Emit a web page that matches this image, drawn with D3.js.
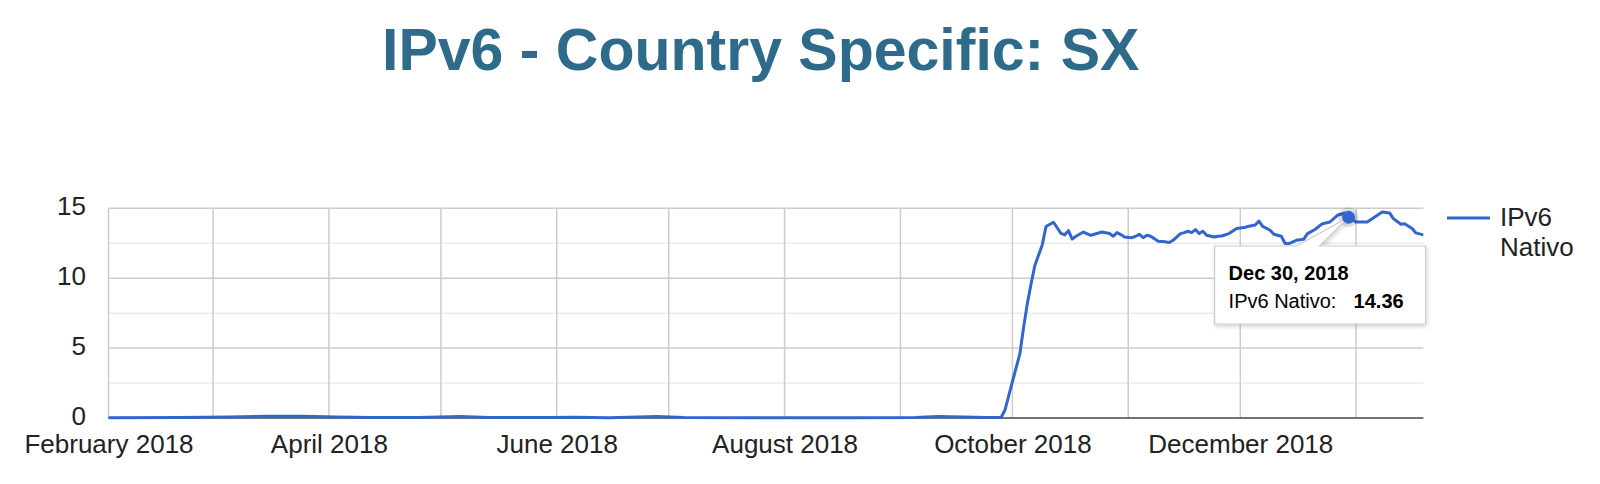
<!DOCTYPE html>
<html>
<head>
<meta charset="utf-8">
<script src="https://cdn.jsdelivr.net/npm/d3@7"></script>
<style>
  html, body { margin: 0; padding: 0; background: #fff; }
  svg { display: block; font-family: "Liberation Sans", Arial, Helvetica, sans-serif; }
</style>
</head>
<body>
<svg id="chart" width="1600" height="484"></svg>
<script>
// ---- data ----
const chartTitle = "IPv6 - Country Specific: SX";
const seriesName = "IPv6 Nativo";
const dates = [
  "2018-02-01","2018-02-20","2018-03-05","2018-03-15","2018-03-25","2018-04-03","2018-04-12","2018-04-25",
  "2018-05-06","2018-05-14","2018-05-30","2018-06-06","2018-06-15","2018-06-28","2018-07-05","2018-07-25",
  "2018-08-20","2018-09-05","2018-09-11","2018-09-18","2018-09-24","2018-09-28",
  "2018-09-29","2018-10-01","2018-10-03","2018-10-04","2018-10-05","2018-10-06","2018-10-07","2018-10-09",
  "2018-10-10","2018-10-12","2018-10-14","2018-10-15","2018-10-16","2018-10-17","2018-10-18","2018-10-20",
  "2018-10-22","2018-10-25","2018-10-27","2018-10-28","2018-10-29","2018-10-30","2018-10-31","2018-11-02",
  "2018-11-03","2018-11-04","2018-11-05","2018-11-06","2018-11-07","2018-11-08","2018-11-09","2018-11-11",
  "2018-11-12","2018-11-13","2018-11-15","2018-11-16","2018-11-17","2018-11-18","2018-11-19","2018-11-20",
  "2018-11-21","2018-11-22","2018-11-24","2018-11-25","2018-11-26","2018-11-28","2018-11-30","2018-12-02",
  "2018-12-03","2018-12-05","2018-12-06","2018-12-07","2018-12-09","2018-12-10","2018-12-12","2018-12-13",
  "2018-12-14","2018-12-16","2018-12-18","2018-12-19","2018-12-21","2018-12-23","2018-12-25","2018-12-27",
  "2018-12-29","2018-12-30","2019-01-01","2019-01-04","2019-01-06","2019-01-08","2019-01-10","2019-01-11",
  "2019-01-13","2019-01-14","2019-01-16","2019-01-17","2019-01-19"
];
const values = [
  0.02,0.03,0.08,0.12,0.13,0.08,0.04,0.03,
  0.10,0.04,0.03,0.06,0.02,0.10,0.03,0.02,
  0.02,0.04,0.10,0.07,0.03,0.05,
  0.57,2.6,4.6,6.5,8.2,9.6,10.9,12.4,
  13.7,14.0,13.2,13.1,13.4,12.8,13.0,13.3,
  13.07,13.3,13.2,13.0,13.26,13.12,12.95,12.9,
  13.0,13.14,12.9,13.07,13.0,12.83,12.64,12.6,
  12.55,12.71,13.19,13.26,13.36,13.26,13.48,13.19,
  13.36,13.07,12.95,13.0,13.02,13.19,13.55,13.62,
  13.7,13.8,14.09,13.71,13.43,13.14,13.0,12.48,
  12.48,12.71,12.79,13.19,13.48,13.9,14.02,14.5,
  14.66,14.36,14.02,14.02,14.38,14.74,14.66,14.26,
  13.86,13.9,13.55,13.24,13.1
];
const xTickDates = ["2018-02-01","2018-04-01","2018-06-01","2018-08-01","2018-10-01","2018-12-01"];
const yTicks = [0, 5, 10, 15];
const yMinorTicks = [2.5, 7.5, 12.5];
const highlightDate = "2018-12-30";

// ---- layout ----
const svg = d3.select("#chart");
const plot = { left: 108.5, right: 1423.3, top: 208.3, bottom: 418 };
const parse = d3.timeParse("%Y-%m-%d");
const data = dates.map((d, i) => ({ date: parse(d), value: values[i] }));

const x = d3.scaleTime()
  .domain(d3.extent(data, d => d.date))
  .range([plot.left, plot.right]);
const y = d3.scaleLinear().domain([0, 15]).range([plot.bottom, plot.top]);

// Title
svg.append("text")
  .attr("x", 382).attr("y", 70)
  .attr("font-size", 59).attr("font-weight", "bold")
  .attr("fill", "#2e6b8a")
  .text(chartTitle);

// Grid
const grid = svg.append("g");
grid.selectAll("line.minor").data(yMinorTicks).join("line")
  .attr("x1", plot.left).attr("x2", plot.right)
  .attr("y1", d => y(d)).attr("y2", d => y(d))
  .attr("stroke", "#ebebeb").attr("stroke-width", 1.5);
grid.selectAll("line.major").data(yTicks.filter(t => t !== 0)).join("line")
  .attr("x1", plot.left).attr("x2", plot.right)
  .attr("y1", d => y(d)).attr("y2", d => y(d))
  .attr("stroke", "#cccccc").attr("stroke-width", 1.5);
const monthLines = d3.timeMonth.every(1).range(x.domain()[0], d3.timeDay.offset(x.domain()[1], 1));
grid.selectAll("line.v").data(monthLines).join("line")
  .attr("x1", d => x(d)).attr("x2", d => x(d))
  .attr("y1", plot.top).attr("y2", plot.bottom)
  .attr("stroke", "#cccccc").attr("stroke-width", 1.5);

// Y axis labels
const yAxis = d3.axisLeft(y).tickValues(yTicks).tickSize(0).tickPadding(0);
const yg = svg.append("g").attr("transform", `translate(86,0)`).call(yAxis);
yg.select(".domain").remove();
yg.selectAll("text").attr("font-size", 26).attr("fill", "#222")
  .attr("font-family", "Liberation Sans, Arial, sans-serif").attr("dy", "0.24em");

// X axis labels
const xAxis = d3.axisBottom(x)
  .tickValues(xTickDates.map(parse))
  .tickFormat(d3.timeFormat("%B %Y"))
  .tickSize(0).tickPadding(0);
const xg = svg.append("g").attr("transform", `translate(0,${plot.bottom})`).call(xAxis);
xg.select(".domain").remove();
xg.selectAll("text").attr("font-size", 26).attr("fill", "#222")
  .attr("font-family", "Liberation Sans, Arial, sans-serif")
  .attr("dy", null).attr("y", 35);

// Baseline
svg.append("line")
  .attr("x1", plot.left).attr("x2", plot.right)
  .attr("y1", y(0)).attr("y2", y(0))
  .attr("stroke", "#444").attr("stroke-width", 1.5);

// Line
const line = d3.line().x(d => x(d.date)).y(d => y(d.value));
svg.append("path").datum(data)
  .attr("fill", "none").attr("stroke", "#3366cc")
  .attr("stroke-width", 3).attr("stroke-linejoin", "round")
  .attr("d", line);

// Legend
svg.append("line").attr("x1", 1447).attr("x2", 1490).attr("y1", 218).attr("y2", 218)
  .attr("stroke", "#3366cc").attr("stroke-width", 3);
const leg = svg.append("text").attr("font-size", 26).attr("fill", "#222");
leg.append("tspan").attr("x", 1500).attr("y", 226).text(seriesName.split(" ")[0]);
leg.append("tspan").attr("x", 1500).attr("y", 256).text(seriesName.split(" ")[1]);

// Highlight point + tooltip
const hp = data.find(d => +d.date === +parse(highlightDate));
const px = x(hp.date), py = y(hp.value);

const defs = svg.append("defs");
const f = defs.append("filter").attr("id", "shadow").attr("x", "-10%").attr("y", "-10%").attr("width", "130%").attr("height", "140%");
f.append("feDropShadow").attr("dx", 1).attr("dy", 2).attr("stdDeviation", 2)
  .attr("flood-color", "#000").attr("flood-opacity", 0.18);

svg.append("circle").attr("cx", px).attr("cy", py).attr("r", 10)
  .attr("fill", "#000").attr("fill-opacity", 0.12);

const bx0 = px - 134, bx1 = px + 77, by0 = 246, by1 = 324;
const tip = svg.append("g");
tip.append("path")
  .attr("d", `M${bx0},${by0} L${px - 52},${by0} L${px},${py} L${px - 29},${by0} L${bx1},${by0} L${bx1},${by1} L${bx0},${by1} Z`)
  .attr("fill", "#fff").attr("stroke", "#cccccc").attr("stroke-width", 1.2)
  .attr("filter", "url(#shadow)");

svg.append("circle").attr("cx", px).attr("cy", py).attr("r", 6.5).attr("fill", "#3366cc");

tip.append("text").attr("x", bx0 + 14).attr("y", 280)
  .attr("font-size", 20).attr("font-weight", "bold").attr("fill", "#000")
  .text(d3.timeFormat("%b %-d, %Y")(hp.date));
tip.append("text").attr("x", bx0 + 14).attr("y", 308)
  .attr("font-size", 20).attr("fill", "#000")
  .text(seriesName + ":");
tip.append("text").attr("x", bx0 + 139).attr("y", 308)
  .attr("font-size", 20).attr("font-weight", "bold").attr("fill", "#000")
  .text(d3.format(".2f")(hp.value));
</script>
</body>
</html>
